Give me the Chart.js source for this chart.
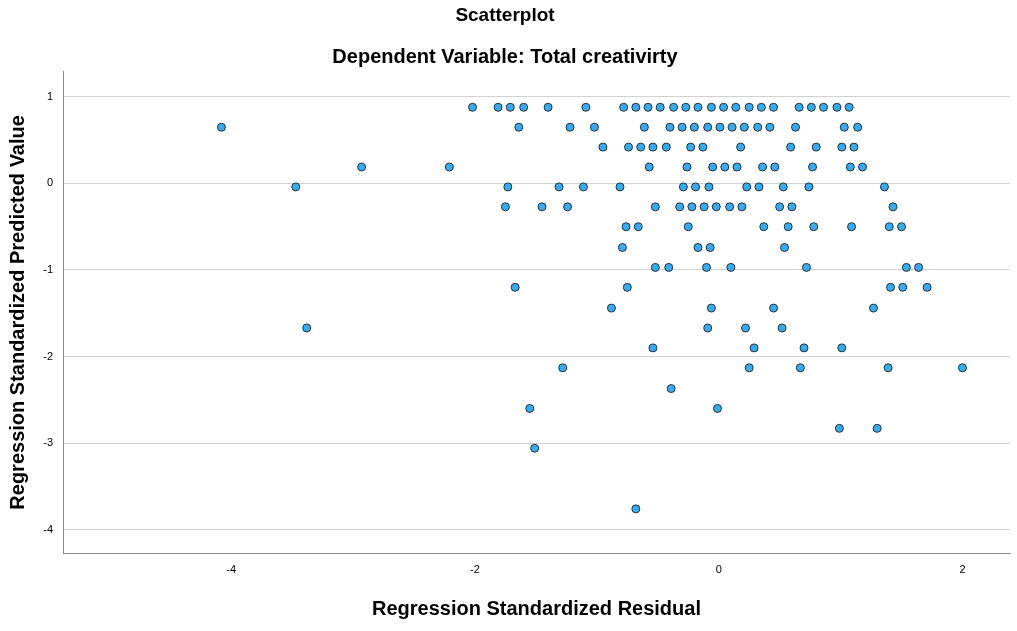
<!DOCTYPE html>
<html>
<head>
<meta charset="utf-8">
<script src="https://cdn.jsdelivr.net/npm/chart.js@4"></script>
<style>
  html, body { margin: 0; padding: 0; background: #fff; }
  #wrap { width: 1017px; height: 631px; }
</style>
</head>
<body>
<div id="wrap"><canvas id="myChart"></canvas></div>
<script>
var predictedLevels = [0.88, 0.65, 0.42, 0.19, -0.04, -0.27, -0.50, -0.74, -0.97, -1.20,
                       -1.44, -1.67, -1.90, -2.13, -2.37, -2.60, -2.83, -3.06, -3.76];

var row00 = [-2.02, -1.81, -1.71, -1.60, -1.40, -1.09, -0.78, -0.68, -0.58, -0.48, -0.37, -0.27,
             -0.17, -0.06, 0.04, 0.14, 0.25, 0.35, 0.45, 0.66, 0.76, 0.86, 0.97, 1.07];
var row01 = [-4.08, -1.64, -1.22, -1.02, -0.61, -0.40, -0.30, -0.20, -0.09, 0.01, 0.11, 0.21,
             0.32, 0.42, 0.63, 1.03, 1.14];
var row02 = [-0.95, -0.74, -0.64, -0.54, -0.43, -0.23, -0.13, 0.18, 0.59, 0.80, 1.01, 1.11];
var row03 = [-2.93, -2.21, -0.57, -0.26, -0.05, 0.05, 0.15, 0.36, 0.46, 0.77, 1.08, 1.18];
var row04 = [-3.47, -1.73, -1.31, -1.11, -0.81, -0.29, -0.19, -0.08, 0.23, 0.33, 0.53, 0.74, 1.36];
var row05 = [-1.75, -1.45, -1.24, -0.52, -0.32, -0.22, -0.12, -0.02, 0.09, 0.19, 0.50, 0.60, 1.43];
var row06 = [-0.76, -0.66, -0.25, 0.37, 0.57, 0.78, 1.09, 1.40, 1.50];
var row07 = [-0.79, -0.17, -0.07, 0.54];
var row08 = [-0.52, -0.41, -0.10, 0.10, 0.72, 1.54, 1.64];
var row09 = [-1.67, -0.75, 1.41, 1.51, 1.71];
var row10 = [-0.88, -0.06, 0.45, 1.27];
var row11 = [-3.38, -0.09, 0.22, 0.52];
var row12 = [-0.54, 0.29, 0.70, 1.01];
var row13 = [-1.28, 0.25, 0.67, 1.39, 2.00];
var row14 = [-0.39];
var row15 = [-1.55, -0.01];
var row16 = [0.99, 1.30];
var row17 = [-1.51];
var row20 = [-0.68];

var residualRows = [row00, row01, row02, row03, row04, row05, row06, row07, row08, row09,
                    row10, row11, row12, row13, row14, row15, row16, row17, row20];

var xTicks = [-4, -2, 0, 2];
var yTicks = [1, 0, -1, -2, -3, -4];

var points = [];
for (var r = 0; r < residualRows.length; r++) {
    for (var i = 0; i < residualRows[r].length; i++) {
        points.push({ x: residualRows[r][i], y: predictedLevels[r] });
    }
}

Chart.defaults.font.family = "'Liberation Sans', Arial, sans-serif";
Chart.defaults.color = '#000';

var ctx = document.getElementById('myChart').getContext('2d');
var myChart = new Chart(ctx, {
    type: 'scatter',
    data: {
        datasets: [{
            data: points,
            backgroundColor: '#38abf0',
            borderColor: '#26323a',
            borderWidth: 1,
            pointRadius: 4,
            pointHoverRadius: 4
        }]
    },
    options: {
        responsive: true,
        maintainAspectRatio: false,
        animation: false,
        layout: { padding: { left: 0, right: 7, top: 0, bottom: 0 } },
        plugins: {
            legend: { display: false },
            tooltip: { enabled: false },
            title: {
                display: true,
                text: 'Scatterplot',
                font: { size: 19, weight: 'bold' },
                padding: { top: 4, bottom: 0 }
            },
            subtitle: {
                display: true,
                text: 'Dependent Variable: Total creativirty',
                color: '#000',
                font: { size: 20, weight: 'bold' },
                padding: { top: 19, bottom: 2 }
            }
        },
        scales: {
            x: {
                type: 'linear',
                min: -5.38,
                max: 2.39,
                afterBuildTicks: function (scale) {
                    scale.ticks = xTicks.map(function (v) { return { value: v }; });
                },
                afterFit: function (scale) { scale.height = 78; },
                grid: { display: false, drawTicks: false },
                border: { display: true, color: '#8c8c8c', width: 1 },
                ticks: { font: { size: 11 }, padding: 10, maxRotation: 0 },
                title: {
                    display: true,
                    text: 'Regression Standardized Residual',
                    font: { size: 20, weight: 'bold' },
                    padding: { top: 0, bottom: 10 }
                }
            },
            y: {
                type: 'linear',
                min: -4.27,
                max: 1.29,
                afterBuildTicks: function (scale) {
                    scale.ticks = yTicks.map(function (v) { return { value: v }; });
                },
                afterFit: function (scale) { scale.width = 63; },
                grid: { color: '#d2d2d2', lineWidth: 1, drawTicks: false },
                border: { display: true, color: '#8c8c8c', width: 1 },
                ticks: { font: { size: 11 }, padding: 10 },
                title: {
                    display: true,
                    text: 'Regression Standardized Predicted Value',
                    font: { size: 20, weight: 'bold' },
                    padding: { top: 6, bottom: 0 }
                }
            }
        }
    }
});
</script>
</body>
</html>
